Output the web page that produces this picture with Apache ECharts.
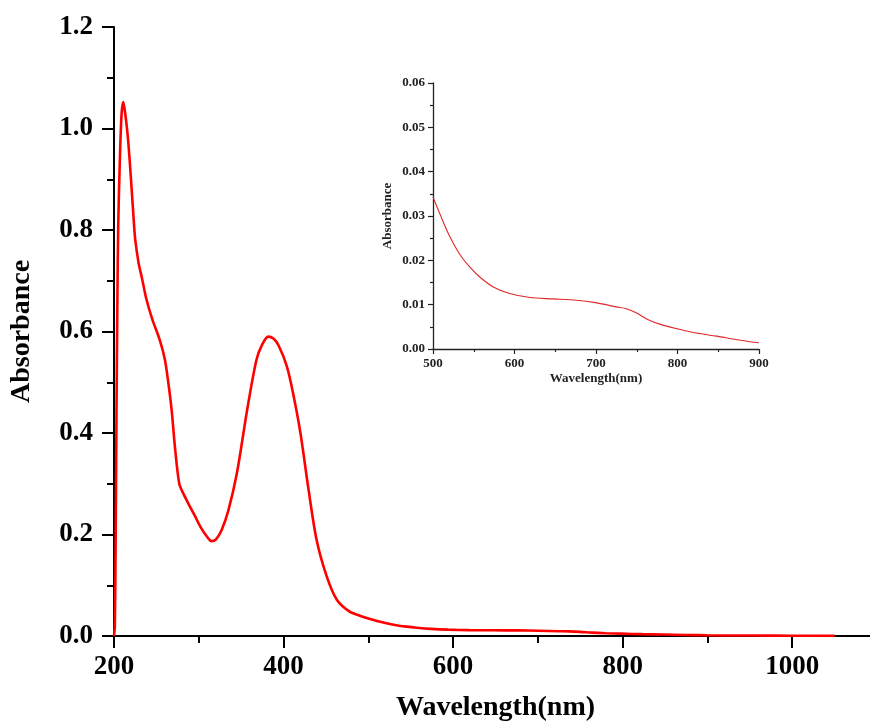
<!DOCTYPE html>
<html>
<head>
<meta charset="utf-8">
<script src="https://cdn.jsdelivr.net/npm/echarts@6/dist/echarts.min.js"></script>
<style>
html,body{margin:0;padding:0;background:#fff;}
#chart{width:870px;height:725px;}
</style>
</head>
<body>
<div id="chart"></div>
<script>
// Main spectrum (wavelength in nm, absorbance)
const wavelength = [200,201,202,203,204,205,207,209,211,213,215,217,219,221,223,225,229,233,238,245,254,260,264,268,272,277,282,288,295,302,310,315,320,327,335,345,357,368,375,382,388,394,404,412,420,429,439,451,463,478,490,500,510,520,533,545,557,574,594,619,647,676,701,725,737,750,764,780,799,823,848,873,900,950,1000,1050];
const absorbance = [0.0,0.02,0.2,0.45,0.66,0.81,0.944,1.03,1.052,1.032,1.005,0.97,0.925,0.876,0.826,0.782,0.735,0.705,0.665,0.625,0.583,0.545,0.5,0.445,0.37,0.30,0.28,0.26,0.238,0.215,0.195,0.187,0.19,0.209,0.248,0.321,0.445,0.544,0.575,0.59,0.586,0.573,0.531,0.472,0.399,0.294,0.189,0.117,0.071,0.048,0.040,0.0343,0.0298,0.0256,0.0213,0.0185,0.0163,0.014,0.0125,0.0116,0.0113,0.011,0.0104,0.0095,0.0091,0.0081,0.0066,0.0055,0.0046,0.0036,0.0029,0.0021,0.0014,0.0009,0.0005,0.0003];

const mainXTicks = {min:200, max:1100, interval:200};
const mainYTicks = {min:0, max:1.2, interval:0.2};
const insetXTicks = {min:500, max:900, interval:100};
const insetYTicks = {min:0, max:0.06, interval:0.01};

const mainData = wavelength.map((w,i)=>[w, absorbance[i]]);
const insetData = mainData.filter(p => p[0] >= insetXTicks.min && p[0] <= insetXTicks.max);

const serif = '"Liberation Serif","Times New Roman",serif';
const chart = echarts.init(document.getElementById('chart'), null, {renderer:'canvas'});

function axisCommon(big){
  return {
    axisLine:{show:true, onZero:false, lineStyle:{color: big?'#000':'#222', width: big?2:1.3}},
    axisTick:{show:true, inside:false, length: big?12:5, lineStyle:{color: big?'#000':'#222', width: big?2:1.2}},
    minorTick:{show:true, splitNumber:2, length: big?7:3, lineStyle:{color: big?'#000':'#222', width: big?2:1.2}},
    splitLine:{show:false},
    minorSplitLine:{show:false}
  };
}

chart.setOption({
  animation:false,
  backgroundColor:'#fff',
  grid:[
    {left:114, top:27, height:609, width:763, outerBoundsMode:'none', containLabel:false},
    {left:433, top:83, width:326, height:266, outerBoundsMode:'none', containLabel:false}
  ],
  xAxis:[
    Object.assign({
      type:'value', gridIndex:0,
      min:mainXTicks.min, max:mainXTicks.max, interval:mainXTicks.interval,
      name:'Wavelength(nm)', nameLocation:'middle', nameGap:58,
      nameTextStyle:{fontFamily:serif, fontWeight:'bold', fontSize:28, color:'#000'},
      axisLabel:{fontFamily:serif, fontWeight:'bold', fontSize:27, color:'#000', margin:18, showMaxLabel:false,
        formatter:v=>String(v)}
    }, axisCommon(true)),
    Object.assign({
      type:'value', gridIndex:1,
      min:insetXTicks.min, max:insetXTicks.max, interval:insetXTicks.interval,
      name:'Wavelength(nm)', nameLocation:'middle', nameGap:23,
      nameTextStyle:{fontFamily:serif, fontWeight:'bold', fontSize:13, color:'#222'},
      axisLabel:{fontFamily:serif, fontWeight:'bold', fontSize:13, color:'#222', margin:8,
        formatter:v=>String(v)}
    }, axisCommon(false))
  ],
  yAxis:[
    Object.assign({
      type:'value', gridIndex:0,
      min:mainYTicks.min, max:mainYTicks.max, interval:mainYTicks.interval,
      name:'Absorbance', nameLocation:'middle', nameGap:78,
      nameTextStyle:{fontFamily:serif, fontWeight:'bold', fontSize:28, color:'#000'},
      axisLabel:{fontFamily:serif, fontWeight:'bold', fontSize:27, color:'#000', margin:21,
        formatter:v=>v.toFixed(1)}
    }, axisCommon(true)),
    Object.assign({
      type:'value', gridIndex:1,
      min:insetYTicks.min, max:insetYTicks.max, interval:insetYTicks.interval,
      name:'Absorbance', nameLocation:'middle', nameGap:39,
      nameTextStyle:{fontFamily:serif, fontWeight:'bold', fontSize:13, color:'#222'},
      axisLabel:{fontFamily:serif, fontWeight:'bold', fontSize:13, color:'#222', margin:8,
        formatter:v=>v.toFixed(2)}
    }, axisCommon(false))
  ],
  series:[
    {type:'line', xAxisIndex:0, yAxisIndex:0, data:mainData, smooth:0.3, showSymbol:false,
     lineStyle:{color:'#ff0000', width:2.6}, clip:true, silent:true},
    {type:'line', xAxisIndex:1, yAxisIndex:1, data:insetData, smooth:0.3, showSymbol:false,
     lineStyle:{color:'#e0282a', width:1.1}, clip:true, silent:true}
  ]
});
</script>
</body>
</html>
